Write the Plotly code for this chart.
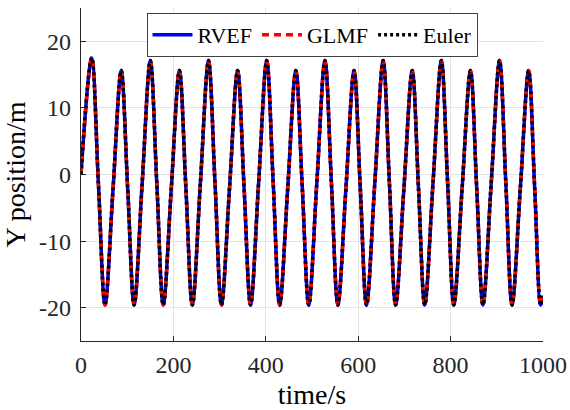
import plotly.graph_objects as go

# time (s) of extrema and mid-crossings
t = [0, 23, 37.5, 52,
     69.5, 87, 101, 115,
     132.5, 150, 164, 178,
     195.5, 213, 227, 241,
     258.5, 276, 290, 304,
     321.5, 339, 353, 367,
     384.5, 402, 416, 430,
     447.5, 465, 479, 493,
     510.5, 528, 542, 556,
     573.5, 591, 604.5, 618,
     636, 654, 667.5, 681,
     699, 717, 730.5, 744,
     762, 780, 793.5, 807,
     825, 843, 856.5, 870,
     888, 906, 919.5, 933,
     951, 969, 982, 995,
     1000]

y_rvef = [0, 17.5, -1.1, -19.6,
          -2.0, 15.6, -2.0, -19.6,
          -1.2, 17.1, -1.2, -19.6,
          -2.0, 15.6, -2.0, -19.6,
          -1.2, 17.1, -1.2, -19.6,
          -2.0, 15.6, -2.0, -19.6,
          -1.2, 17.1, -1.2, -19.6,
          -2.0, 15.6, -2.0, -19.6,
          -1.2, 17.1, -1.2, -19.6,
          -2.0, 15.6, -2.0, -19.6,
          -1.2, 17.1, -1.2, -19.6,
          -2.0, 15.6, -2.0, -19.6,
          -1.2, 17.1, -1.2, -19.6,
          -2.0, 15.6, -2.0, -19.6,
          -1.2, 17.1, -1.2, -19.6,
          -2.0, 15.6, -2.0, -19.6,
          -18.2]

y_glmf = [0, 17.5, -1.1, -19.6,
          -2.0, 15.6, -2.0, -19.6,
          -1.2, 17.1, -1.2, -19.6,
          -2.0, 15.6, -2.0, -19.6,
          -1.2, 17.1, -1.2, -19.6,
          -2.0, 15.6, -2.0, -19.6,
          -1.2, 17.1, -1.2, -19.6,
          -2.0, 15.6, -2.0, -19.6,
          -1.2, 17.1, -1.2, -19.6,
          -2.0, 15.6, -2.0, -19.6,
          -1.2, 17.1, -1.2, -19.6,
          -2.0, 15.6, -2.0, -19.6,
          -1.2, 17.1, -1.2, -19.6,
          -2.0, 15.6, -2.0, -19.6,
          -1.2, 17.1, -1.2, -19.6,
          -2.0, 15.6, -2.0, -19.6,
          -18.2]

y_euler = [0, 17.5, -1.1, -19.6,
           -2.0, 15.6, -2.0, -19.6,
           -1.2, 17.1, -1.2, -19.6,
           -2.0, 15.6, -2.0, -19.6,
           -1.2, 17.1, -1.2, -19.6,
           -2.0, 15.6, -2.0, -19.6,
           -1.2, 17.1, -1.2, -19.6,
           -2.0, 15.6, -2.0, -19.6,
           -1.2, 17.1, -1.2, -19.6,
           -2.0, 15.6, -2.0, -19.6,
           -1.2, 17.1, -1.2, -19.6,
           -2.0, 15.6, -2.0, -19.6,
           -1.2, 17.1, -1.2, -19.6,
           -2.0, 15.6, -2.0, -19.6,
           -1.2, 17.1, -1.2, -19.6,
           -2.0, 15.6, -2.0, -19.6,
           -18.2]

x_ticks = [0, 200, 400, 600, 800, 1000]
x_ticktext = ["0", "200", "400", "600", "800", "1000"]
y_ticks = [-20, -10, 0, 10, 20]
y_ticktext = ["-20", "-10", "0", "10", "20"]

FONT = "Liberation Serif"
AX = "#262626"
GRID = "#e3e3e3"

fig = go.Figure()
fig.add_trace(go.Scatter(x=t, y=y_rvef, mode="lines", name="RVEF",
                         line=dict(color="#0000ff", width=3.5, shape="spline", smoothing=1.0)))
fig.add_trace(go.Scatter(x=t, y=y_glmf, mode="lines", name="GLMF",
                         line=dict(color="#ff0000", width=3.5, dash="7px,5px", shape="spline", smoothing=1.0)))
fig.add_trace(go.Scatter(x=t, y=y_euler, mode="lines", name="Euler",
                         line=dict(color="#000000", width=3.5, dash="3px,3px", shape="spline", smoothing=1.0)))

fig.update_layout(
    width=570, height=410,
    margin=dict(l=81, r=27, t=8, b=69),
    paper_bgcolor="white", plot_bgcolor="white",
    font=dict(family=FONT, size=24, color="#262626"),
    showlegend=True,
    legend=dict(orientation="h", x=0.5, xanchor="center", y=0.985, yanchor="top",
                bgcolor="white", bordercolor="#404040", borderwidth=1,
                font=dict(family=FONT, size=22, color="#000000"),
                itemwidth=40, tracegroupgap=0),
)
fig.update_xaxes(range=[0, 1000], tickvals=x_ticks, ticktext=x_ticktext,
                 automargin=False,
                 showgrid=True, gridcolor=GRID, gridwidth=1,
                 showline=True, linecolor=AX, linewidth=1.2,
                 ticks="inside", ticklen=5, tickcolor=AX, tickwidth=1,
                 zeroline=False, mirror=False,
                 tickfont=dict(family=FONT, size=24, color="#262626"),
                 ticklabelstandoff=2,
                 title=dict(text="time/s", font=dict(family=FONT, size=28, color="#000000"), standoff=11))
fig.update_yaxes(range=[-25, 25], tickvals=y_ticks, ticktext=y_ticktext,
                 automargin=False,
                 showgrid=True, gridcolor=GRID, gridwidth=1,
                 showline=True, linecolor=AX, linewidth=1.2,
                 ticks="inside", ticklen=5, tickcolor=AX, tickwidth=1,
                 zeroline=False, mirror=False,
                 tickfont=dict(family=FONT, size=24, color="#262626"),
                 ticklabelstandoff=4,
                 title=dict(text="Y position/m", font=dict(family=FONT, size=28, color="#000000"), standoff=8))

fig.write_html("out.html")
